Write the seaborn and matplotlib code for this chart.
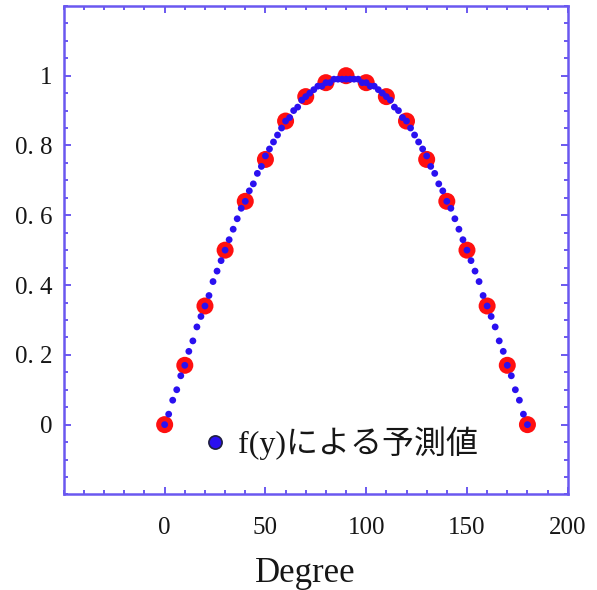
import matplotlib
matplotlib.use("Agg")
import matplotlib.pyplot as plt
from matplotlib.lines import Line2D
from matplotlib.ticker import FixedLocator, FixedFormatter, MultipleLocator
import seaborn as sns
import pandas as pd

# ---- data ----
true_deg = [0, 10, 20, 30, 40, 50, 60, 70, 80, 90, 100, 110, 120, 130, 140, 150, 160, 170, 180]
true_val = [0.00, 0.17, 0.34, 0.50, 0.64, 0.76, 0.87, 0.94, 0.98, 1.00,
            0.98, 0.94, 0.87, 0.76, 0.64, 0.50, 0.34, 0.17, 0.00]

pred_deg = list(range(0, 182, 2))
pred_val = [0.00, 0.03, 0.07, 0.10, 0.14, 0.17, 0.21, 0.24, 0.28, 0.31,
            0.34, 0.37, 0.41, 0.44, 0.47, 0.50, 0.53, 0.56, 0.59, 0.62,
            0.64, 0.67, 0.69, 0.72, 0.74, 0.77, 0.79, 0.81, 0.83, 0.85,
            0.87, 0.88, 0.90, 0.91, 0.93, 0.94, 0.95, 0.96, 0.97, 0.97,
            0.98, 0.98, 0.99, 0.99, 0.99, 0.99, 0.99, 0.99, 0.99, 0.98,
            0.98, 0.97, 0.97, 0.96, 0.95, 0.94, 0.93, 0.91, 0.90, 0.88,
            0.87, 0.85, 0.83, 0.81, 0.79, 0.77, 0.74, 0.72, 0.69, 0.67,
            0.64, 0.62, 0.59, 0.56, 0.53, 0.50, 0.47, 0.44, 0.41, 0.37,
            0.34, 0.31, 0.28, 0.24, 0.21, 0.17, 0.14, 0.10, 0.07, 0.03,
            0.00]

x_ticks = [0, 50, 100, 150, 200]
x_tick_labels = ["0", "50", "100", "150", "200"]
y_ticks = [0, 0.2, 0.4, 0.6, 0.8, 1.0]
y_tick_labels = ["0", "0. 2", "0. 4", "0. 6", "0. 8", "1"]
legend_label = "f(y)による予測値"
x_label = "Degree"

# ---- style ----
sns.set_style("ticks")
plt.rcParams["font.family"] = ["Liberation Serif", "Noto Sans CJK JP", "DejaVu Sans"]

frame_col = "#6a58f0"
red = "#ff1010"
blue = "#2a10f0"
txt = "#161616"

df_true = pd.DataFrame({"deg": true_deg, "val": true_val})
df_pred = pd.DataFrame({"deg": pred_deg, "val": pred_val})

fig = plt.figure(figsize=(5.97, 5.90), dpi=100)
ax = fig.add_axes([0.107, 0.162, 0.844, 0.828])

sns.scatterplot(data=df_true, x="deg", y="val", ax=ax, s=150, color=red,
                edgecolor="none", zorder=2, legend=False)
sns.scatterplot(data=df_pred, x="deg", y="val", ax=ax, s=24, color=blue,
                edgecolor="none", zorder=3, legend=False)

ax.set_xlim(-50, 200)
ax.set_ylim(-0.2, 1.2)

ax.xaxis.set_major_locator(FixedLocator(x_ticks))
ax.xaxis.set_major_formatter(FixedFormatter(x_tick_labels))
ax.xaxis.set_minor_locator(MultipleLocator(10))
ax.yaxis.set_major_locator(FixedLocator(y_ticks))
ax.yaxis.set_major_formatter(FixedFormatter(y_tick_labels))
ax.yaxis.set_minor_locator(MultipleLocator(0.05))

for sp in ax.spines.values():
    sp.set_visible(True)
    sp.set_color(frame_col)
    sp.set_linewidth(1.8)

ax.tick_params(which="both", direction="in", top=True, right=True,
               color=frame_col, width=1.4)
ax.tick_params(which="major", length=5)
ax.tick_params(which="minor", length=2.8)
ax.tick_params(axis="x", which="major", labelsize=18, labelcolor=txt, pad=16)
ax.tick_params(axis="y", which="major", labelsize=18, labelcolor=txt, pad=8)

ax.set_xlabel(x_label, fontsize=25, color=txt)
ax.xaxis.set_label_coords(0.48, -0.128)
ax.set_ylabel("")

handle = Line2D([], [], linestyle="none", marker="o", markersize=9.5,
                markerfacecolor=blue, markeredgecolor="#202040", markeredgewidth=1.2)
ax.legend(handles=[handle], labels=[legend_label], loc="center left",
          bbox_to_anchor=(0.275, 0.105), frameon=False, handlelength=0.8,
          handletextpad=0.3, borderpad=0, borderaxespad=0,
          prop={"family": ["Liberation Serif", "Noto Sans CJK JP"], "size": 23},
          labelcolor=txt)

fig.savefig("out.png", dpi=100)
